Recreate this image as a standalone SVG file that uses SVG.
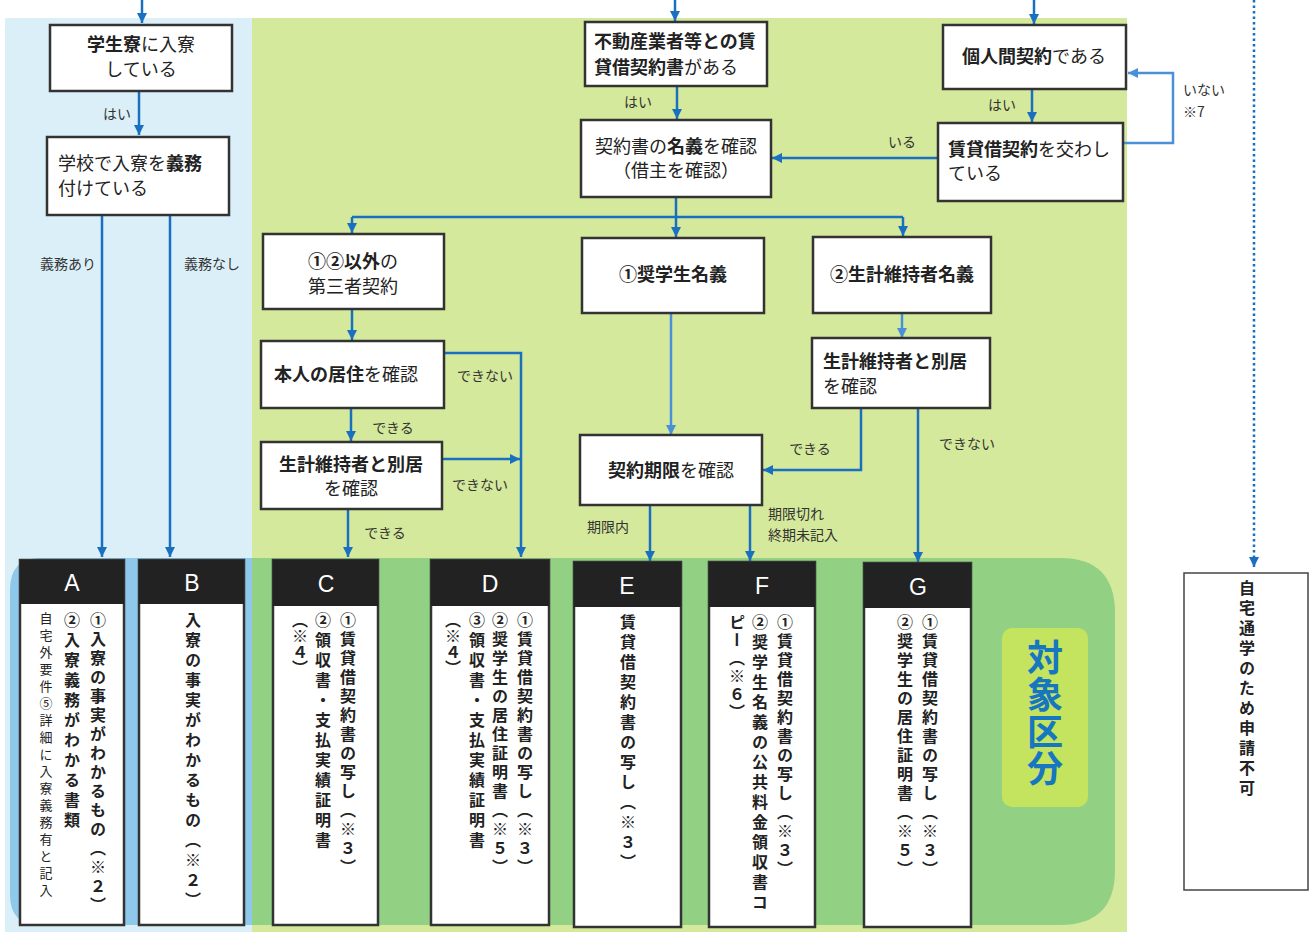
<svg xmlns="http://www.w3.org/2000/svg" width="1311" height="932" viewBox="0 0 1311 932">
<style>
.box{fill:#fff;stroke:#333;stroke-width:2.5}
.t{font-family:"Noto Sans CJK JP","Noto Sans CJK SC",sans-serif;font-size:18px;fill:#222}
.b{font-weight:bold}
.lbl{font-family:"Noto Sans CJK JP",sans-serif;font-size:14px;fill:#333}
.ln{fill:none;stroke:#1a70c0;stroke-width:2.5}
.ln2{fill:none;stroke:#4a90d9;stroke-width:2.5}
.hd{fill:#222}
.letter{font-family:"Liberation Sans",Arial,sans-serif;font-size:23px;fill:#fff;text-anchor:middle}
.v{font-family:"Noto Sans CJK JP",sans-serif;font-size:16px;font-weight:bold;fill:#222;writing-mode:vertical-rl;letter-spacing:4px}
.vs{font-family:"Noto Sans CJK JP",sans-serif;font-size:13px;fill:#222;writing-mode:vertical-rl;letter-spacing:4px}
</style>
<defs>
<marker id="ah" viewBox="0 0 10 10" refX="10" refY="5" markerWidth="10" markerHeight="10" markerUnits="userSpaceOnUse" orient="auto"><path d="M0,0 L10,5 L0,10 z" fill="#1a70c0"/></marker>
<marker id="ah2" viewBox="0 0 10 10" refX="10" refY="5" markerWidth="10" markerHeight="10" markerUnits="userSpaceOnUse" orient="auto"><path d="M0,0 L10,5 L0,10 z" fill="#4a90d9"/></marker>
</defs>
<rect width="1311" height="932" fill="#fff"/>
<!-- backgrounds -->
<rect x="5" y="18" width="247" height="914" fill="#dbeff8"/>
<rect x="252" y="18" width="875" height="914" fill="#d5e99c"/>
<path d="M252,558 H40 Q10,558 10,590 V895 Q10,925 40,925 H252 Z" fill="#8ec8ea"/>
<path d="M252,558 H1060 Q1115,558 1115,613 V870 Q1115,925 1060,925 H252 Z" fill="#92d083"/>
<rect x="1002" y="628" width="86" height="179" rx="10" fill="#c4e35e"/>
<text x="1045" y="639" style="writing-mode:vertical-rl" font-family="Noto Sans CJK JP,sans-serif" font-size="36" font-weight="bold" fill="#1676c0" letter-spacing="1">対象区分</text>

<g id="connectors">
<path class="ln" d="M142,0 V23" marker-end="url(#ah)"/>
<path class="ln" d="M139,91 V135" marker-end="url(#ah)"/>
<path class="ln" d="M102,215 V557" marker-end="url(#ah)"/>
<path class="ln" d="M170,215 V557" marker-end="url(#ah)"/>
<path class="ln" d="M675,0 V21" marker-end="url(#ah)"/>
<path class="ln" d="M677,86 V119" marker-end="url(#ah)"/>
<path class="ln" d="M1034,0 V24" marker-end="url(#ah)"/>
<path class="ln" d="M1032,89 V122" marker-end="url(#ah)"/>
<path class="ln" d="M938,158 H772" marker-end="url(#ah)"/>
<path class="ln2" d="M1123,143 H1173 V73 H1128" marker-end="url(#ah2)"/>
<path fill="none" stroke="#1a70c0" stroke-width="2.5" stroke-dasharray="2.5 3" d="M1254,0 V560"/>
<path class="ln" d="M1254,558 V567" marker-end="url(#ah)"/>
<path class="ln" d="M676,197 V217 M352,217 H903"/>
<path class="ln" d="M352,217 V233" marker-end="url(#ah)"/>
<path class="ln" d="M676,217 V237" marker-end="url(#ah)"/>
<path class="ln" d="M903,217 V236" marker-end="url(#ah)"/>
<path class="ln" d="M352,309 V340" marker-end="url(#ah)"/>
<path class="ln" d="M444,353 H521 V557" marker-end="url(#ah)"/>
<path class="ln" d="M351,408 V441" marker-end="url(#ah)"/>
<path class="ln" d="M442,459 H520" marker-end="url(#ah)"/>
<path class="ln" d="M348,509 V557" marker-end="url(#ah)"/>
<path class="ln2" d="M902,313 V338" marker-end="url(#ah2)"/>
<path class="ln" d="M861,408 V470 H763" marker-end="url(#ah)"/>
<path class="ln" d="M918,408 V562" marker-end="url(#ah)"/>
<path class="ln2" d="M671,313 V435" marker-end="url(#ah2)"/>
<path class="ln" d="M650,505 V561" marker-end="url(#ah)"/>
<path class="ln" d="M750,505 V561" marker-end="url(#ah)"/>
<text class="lbl" x="117" y="119" text-anchor="middle">はい</text>
<text class="lbl" x="68" y="269" text-anchor="middle">義務あり</text>
<text class="lbl" x="212" y="269" text-anchor="middle">義務なし</text>
<text class="lbl" x="638" y="107" text-anchor="middle">はい</text>
<text class="lbl" x="1002" y="110" text-anchor="middle">はい</text>
<text class="lbl" x="902" y="147" text-anchor="middle">いる</text>
<text class="lbl" x="1183" y="95">いない</text>
<text class="lbl" x="1183" y="117">※7</text>
<text class="lbl" x="485" y="381" text-anchor="middle">できない</text>
<text class="lbl" x="393" y="433" text-anchor="middle">できる</text>
<text class="lbl" x="480" y="490" text-anchor="middle">できない</text>
<text class="lbl" x="385" y="538" text-anchor="middle">できる</text>
<text class="lbl" x="810" y="454" text-anchor="middle">できる</text>
<text class="lbl" x="967" y="449" text-anchor="middle">できない</text>
<text class="lbl" x="608" y="532" text-anchor="middle">期限内</text>
<text class="lbl" x="768" y="519">期限切れ</text>
<text class="lbl" x="768" y="540">終期未記入</text>
</g>

<g id="n1"><rect class="box" x="50" y="25" width="182" height="66"/>
<text class="t" x="141" y="51" text-anchor="middle"><tspan class="b">学生寮</tspan>に入寮</text>
<text class="t" x="141" y="76" text-anchor="middle">している</text></g>
<g id="n2"><rect class="box" x="47" y="137" width="182" height="78"/>
<text class="t" x="58" y="170">学校で入寮を<tspan class="b">義務</tspan></text>
<text class="t" x="58" y="195">付けている</text></g>
<g id="n3"><rect class="box" x="585" y="22" width="182" height="64"/>
<text class="t b" x="594" y="48">不動産業者等との賃</text>
<text class="t" x="594" y="74"><tspan class="b">貸借契約書</tspan>がある</text></g>
<g id="n4"><rect class="box" x="581" y="120" width="190" height="77"/>
<text class="t" x="676" y="153" text-anchor="middle">契約書の<tspan class="b">名義</tspan>を確認</text>
<text class="t" x="676" y="177" text-anchor="middle">（借主を確認）</text></g>
<g id="n5"><rect class="box" x="943" y="25" width="183" height="64"/>
<text class="t" x="1034" y="63" text-anchor="middle"><tspan class="b">個人間契約</tspan>である</text></g>
<g id="n6"><rect class="box" x="938" y="123" width="185" height="78"/>
<text class="t" x="948" y="156"><tspan class="b">賃貸借契約</tspan>を交わし</text>
<text class="t" x="948" y="180">ている</text></g>
<g id="n7"><rect class="box" x="263" y="234" width="181" height="75"/>
<text class="t" x="353" y="268" text-anchor="middle"><tspan class="b">①②以外</tspan>の</text>
<text class="t" x="353" y="293" text-anchor="middle">第三者契約</text></g>
<g id="n8"><rect class="box" x="582" y="238" width="182" height="75"/>
<text class="t b" x="673" y="281" text-anchor="middle">①奨学生名義</text></g>
<g id="n9"><rect class="box" x="813" y="237" width="178" height="76"/>
<text class="t b" x="902" y="281" text-anchor="middle">②生計維持者名義</text></g>
<g id="n10"><rect class="box" x="261" y="341" width="183" height="67"/>
<text class="t" x="346" y="381" text-anchor="middle"><tspan class="b">本人の居住</tspan>を確認</text></g>
<g id="n11"><rect class="box" x="261" y="442" width="181" height="67"/>
<text class="t b" x="351" y="471" text-anchor="middle">生計維持者と別居</text>
<text class="t" x="351" y="495" text-anchor="middle">を確認</text></g>
<g id="n12"><rect class="box" x="812" y="338" width="178" height="70"/>
<text class="t b" x="823" y="368">生計維持者と別居</text>
<text class="t" x="823" y="393">を確認</text></g>
<g id="n13"><rect class="box" x="580" y="435" width="182" height="70"/>
<text class="t" x="671" y="477" text-anchor="middle"><tspan class="b">契約期限</tspan>を確認</text></g>

<g id="A"><rect class="box" x="20" y="560" width="104" height="365"/><rect class="hd" x="20" y="560" width="104" height="44"/>
<text class="letter" x="72" y="591">A</text>
<text class="v" x="98" y="612" style="letter-spacing:3px">①入寮の事実がわかるもの（※２）</text>
<text class="v" x="72" y="612">②入寮義務がわかる書類</text>
<text class="vs" x="46" y="612">自宅外要件⑤詳細に入寮義務有と記入</text></g>
<g id="B"><rect class="box" x="139" y="560" width="105" height="365"/><rect class="hd" x="139" y="560" width="105" height="44"/>
<text class="letter" x="192" y="591">B</text>
<text class="v" x="193" y="612">入寮の事実がわかるもの（※２）</text></g>
<g id="C"><rect class="box" x="273" y="560" width="105" height="365"/><rect class="hd" x="273" y="560" width="105" height="46"/>
<text class="letter" x="326" y="592">C</text>
<text class="v" x="348" y="612" style="letter-spacing:3px">①賃貸借契約書の写し（※３）</text>
<text class="v" x="323" y="612">②領収書・支払実績証明書</text>
<text class="v" x="300" y="612" style="letter-spacing:0px">（※４）</text></g>
<g id="D"><rect class="box" x="431" y="560" width="118" height="365"/><rect class="hd" x="431" y="560" width="118" height="46"/>
<text class="letter" x="490" y="592">D</text>
<text class="v" x="525" y="612" style="letter-spacing:3px">①賃貸借契約書の写し（※３）</text>
<text class="v" x="500" y="612" style="letter-spacing:3px">②奨学生の居住証明書（※５）</text>
<text class="v" x="477" y="612">③領収書・支払実績証明書</text>
<text class="v" x="453" y="612" style="letter-spacing:0px">（※４）</text></g>
<g id="E"><rect class="box" x="574" y="562" width="107" height="365"/><rect class="hd" x="574" y="562" width="107" height="45"/>
<text class="letter" x="627" y="594">E</text>
<text class="v" x="628" y="614">賃貸借契約書の写し（※３）</text></g>
<g id="F"><rect class="box" x="709" y="562" width="106" height="365"/><rect class="hd" x="709" y="562" width="106" height="45"/>
<text class="letter" x="762" y="594">F</text>
<text class="v" x="785" y="614" style="letter-spacing:3px">①賃貸借契約書の写し（※３）</text>
<text class="v" x="760" y="614">②奨学生名義の公共料金領収書コ</text>
<text class="v" x="737" y="614" style="letter-spacing:2px">ピー（※６）</text></g>
<g id="G"><rect class="box" x="864" y="563" width="107" height="364"/><rect class="hd" x="864" y="563" width="107" height="45"/>
<text class="letter" x="918" y="595">G</text>
<text class="v" x="930" y="614" style="letter-spacing:3px">①賃貸借契約書の写し（※３）</text>
<text class="v" x="905" y="614" style="letter-spacing:3px">②奨学生の居住証明書（※５）</text></g>
<g id="H"><rect x="1184" y="573" width="124" height="317" fill="#fff" stroke="#444" stroke-width="1.5"/>
<text class="v" x="1247" y="580">自宅通学のため申請不可</text></g>
</svg>
